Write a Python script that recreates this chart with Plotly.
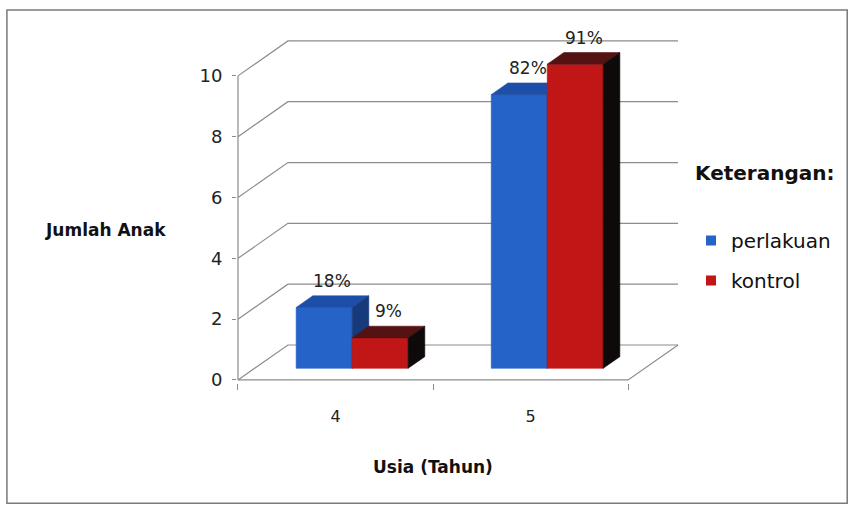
import plotly.graph_objects as go

# ---- data ----
categories = ["4", "5"]
perlakuan = [2, 9]
kontrol = [1, 10]
perlakuan_pct = ["18%", "82%"]
kontrol_pct = ["9%", "91%"]
y_ticks = [0, 2, 4, 6, 8, 10]

# ---- geometry ----
FIG_W, FIG_H = 849, 507
L, T = 237, 33
PX_X = 195.0          # pixels per category slot
PX_Y = 30.4           # pixels per count unit
DX, DY = 0.256, 1.15  # depth of the floor, in axis units
BW = 0.287            # width of one bar
X_MIN, X_MAX = -0.505, 1.5 + DX + 0.01
Y_MIN, Y_MAX = -0.1, 11.41
W = (X_MAX - X_MIN) * PX_X
H = (Y_MAX - Y_MIN) * PX_Y
R = FIG_W - L - W
B = FIG_H - T - H

FONT = "DejaVu Sans"
GRID = "#8c8c8c"


def px_to_paper(px, py):
    return (px - L) / W, (T + H - py) / H


def box_faces(x0, x1, v):
    a, b = DX / 3, DY / 3
    front = [(x0 + a, b), (x1 + a, b), (x1 + a, v + b), (x0 + a, v + b)]
    top = [(x0 + a, v + b), (x1 + a, v + b), (x1 + 2 * a, v + 2 * b), (x0 + 2 * a, v + 2 * b)]
    side = [(x1 + a, b), (x1 + 2 * a, 2 * b), (x1 + 2 * a, v + 2 * b), (x1 + a, v + b)]
    return front, top, side


def polys_to_xy(polys):
    xs, ys = [], []
    for poly in polys:
        for px, py in poly + [poly[0]]:
            xs.append(px)
            ys.append(py)
        xs.append(None)
        ys.append(None)
    return xs, ys


fig = go.Figure()

# back wall gridlines (front tick -> back wall -> right end)
gx, gy = [], []
for v in y_ticks:
    gx += [-0.5, -0.5 + DX, 1.5 + DX, None]
    gy += [v, v + DY, v + DY, None]
# floor front and right edges
gx += [-0.5, 1.5, 1.5 + DX, None]
gy += [0, 0, DY, None]
# vertical value axis
gx += [-0.5, -0.5]
gy += [0, y_ticks[-1]]
fig.add_trace(go.Scatter(x=gx, y=gy, mode="lines", line=dict(color=GRID, width=1.2),
                         hoverinfo="skip", showlegend=False))

series = [
    ("perlakuan", perlakuan, perlakuan_pct, -1, ["#2563c9", "#1e4fa8", "#173a7c"]),
    ("kontrol", kontrol, kontrol_pct, 1, ["#c01616", "#551212", "#0e0a0a"]),
]

annotations = []
for name, vals, pcts, side, colors in series:
    fronts, tops, sides = [], [], []
    for i, v in enumerate(vals):
        x0, x1 = (i - BW, i) if side < 0 else (i, i + BW)
        f, t, s = box_faces(x0, x1, v)
        fronts.append(f)
        tops.append(t)
        sides.append(s)
        annotations.append(dict(
            x=(x0 + x1) / 2 + DX / 2, y=v + 2 * DY / 3, xref="x", yref="y",
            text=pcts[i], showarrow=False, xanchor="center", yanchor="bottom", yshift=3,
            font=dict(family=FONT, size=17, color="#222222")))
    for polys, col in zip([fronts, tops, sides], colors):
        xs, ys = polys_to_xy(polys)
        fig.add_trace(go.Scatter(x=xs, y=ys, mode="lines", fill="toself", fillcolor=col,
                                 line=dict(width=0.6, color=col), hoverinfo="skip",
                                 showlegend=False))

# legend entries
for name, vals, pcts, side, colors in series:
    fig.add_trace(go.Scatter(x=[None], y=[None], mode="markers", name=name,
                             legendgroup=name,
                             marker=dict(symbol="square", size=10, color=colors[0])))

# axis titles and legend heading
jx, jy = px_to_paper(106, 230)
annotations.append(dict(x=jx, y=jy, xref="paper", yref="paper", text="<b>Jumlah Anak</b>",
                        showarrow=False, xanchor="center", yanchor="middle",
                        font=dict(family=FONT, size=17, color="#111111")))
annotations.append(dict(x=0.5, y=px_to_paper(0, 467)[1], xref="x", yref="paper",
                        text="<b>Usia (Tahun)</b>", showarrow=False,
                        xanchor="center", yanchor="middle",
                        font=dict(family=FONT, size=17, color="#111111")))
kx, ky = px_to_paper(764, 173)
annotations.append(dict(x=kx, y=ky, xref="paper", yref="paper", text="<b>Keterangan:</b>",
                        showarrow=False, xanchor="center", yanchor="middle",
                        font=dict(family=FONT, size=20, color="#111111")))

# outer frame
fx0, fy0 = px_to_paper(7, 503)
fx1, fy1 = px_to_paper(847, 10)

fig.update_layout(
    width=FIG_W, height=FIG_H,
    margin=dict(l=L, r=R, t=T, b=B, pad=0),
    paper_bgcolor="white", plot_bgcolor="white",
    showlegend=True,
    legend=dict(xref="container", yref="container", x=691 / FIG_W, y=(FIG_H - 221) / FIG_H,
                xanchor="left", yanchor="top", tracegroupgap=11,
                font=dict(family=FONT, size=20, color="#111111"),
                bgcolor="rgba(0,0,0,0)"),
    annotations=annotations,
    shapes=[dict(type="rect", xref="paper", yref="paper", x0=fx0, y0=fy0, x1=fx1, y1=fy1,
                 line=dict(color="#7a7a7a", width=1.5), layer="below")],
    xaxis=dict(range=[X_MIN, X_MAX], tickvals=list(range(len(categories))),
               ticktext=categories, ticks="", showgrid=False, zeroline=False, showline=False,
               ticklabelstandoff=22,
               tickfont=dict(family=FONT, size=16, color="#222222"),
               minor=dict(tickvals=[-0.5, 0.5, 1.5], ticks="outside", ticklen=6,
                          tickcolor=GRID, showgrid=False),
               fixedrange=True),
    yaxis=dict(range=[Y_MIN, Y_MAX], tickvals=y_ticks, ticks="outside", ticklen=4,
               tickcolor=GRID, showgrid=False, zeroline=False, showline=False,
               ticklabelstandoff=6,
               tickfont=dict(family=FONT, size=18, color="#222222"),
               fixedrange=True),
)

fig.write_html("out.html")
